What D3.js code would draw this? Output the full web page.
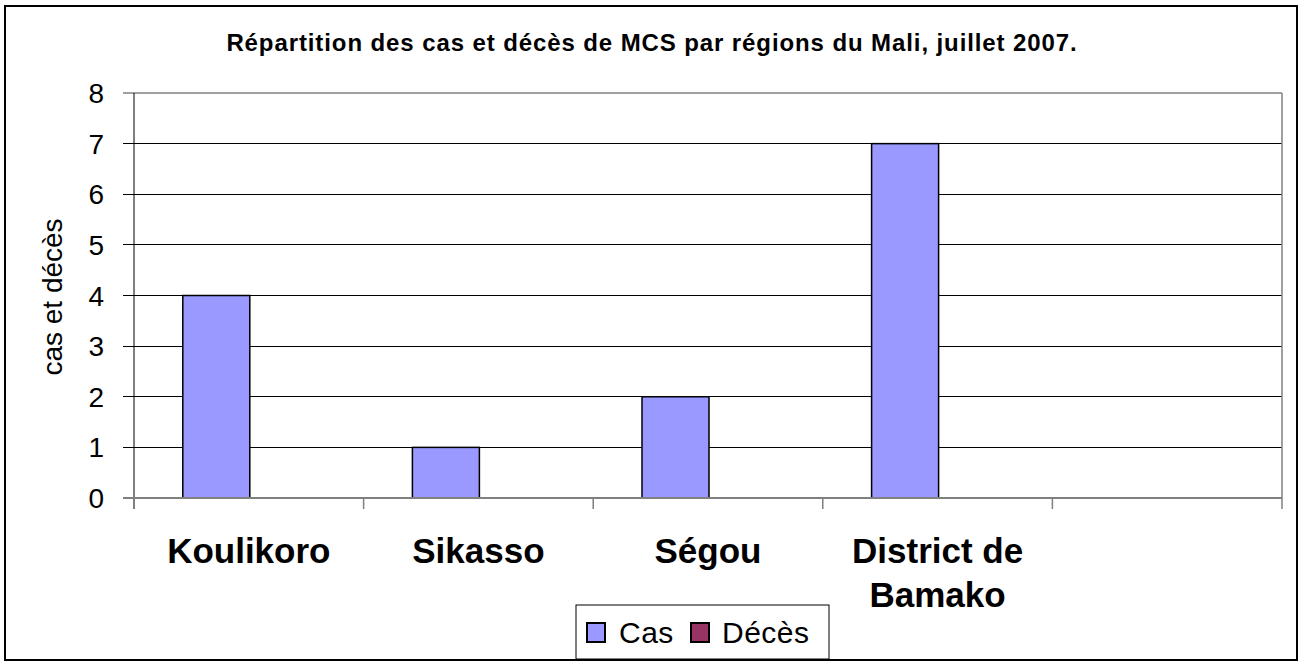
<!DOCTYPE html>
<html><head><meta charset="utf-8">
<script src="https://cdn.jsdelivr.net/npm/d3@7"></script>
<style>body{margin:0;background:#fff;}svg{display:block;font-family:"Liberation Sans",Arial,sans-serif;}</style>
</head><body>
<svg id="c" width="1304" height="666"></svg>
<script>
const categories = ["Koulikoro", "Sikasso", "Ségou", "District de Bamako", ""];
const categoryLines = [["Koulikoro"], ["Sikasso"], ["Ségou"], ["District de", "Bamako"], [""]];
const seriesNames = ["Cas", "Décès"];
const casValues = [4, 1, 2, 7, 0];
const decesValues = [0, 0, 0, 0, 0];
const yTicks = [0, 1, 2, 3, 4, 5, 6, 7, 8];
const colors = ["#9999ff", "#993366"];
const title = "Répartition des cas et décès de MCS par régions du Mali, juillet 2007.";
const yTitle = "cas et décès";

const svg = d3.select("#c");
svg.append("rect").attr("x", 5).attr("y", 6).attr("width", 1292).attr("height", 654)
  .attr("fill", "#fff").attr("stroke", "#000").attr("stroke-width", 2);

const L = 134, R = 1282, T = 93, B = 498;
const x = d3.scaleBand().domain(categories.map((d, i) => i)).range([L, R]);
const y = d3.scaleLinear().domain([0, 8]).range([B, T]);
const barW = 67;

// gridlines
const g = svg.append("g");
g.selectAll("line.grid").data(yTicks.filter(t => t > 0 && t < 8)).enter().append("line")
  .attr("x1", L - 11).attr("x2", R).attr("y1", d => y(d)).attr("y2", d => y(d))
  .attr("stroke", "#000").attr("stroke-width", 1).attr("shape-rendering", "crispEdges");
g.append("line").attr("x1", L - 11).attr("x2", R).attr("y1", y(8)).attr("y2", y(8))
  .attr("stroke", "#808080").attr("stroke-width", 1.5);
g.append("line").attr("x1", R).attr("x2", R).attr("y1", y(8)).attr("y2", B)
  .attr("stroke", "#808080").attr("stroke-width", 1.5);

// bars
const data = categories.map((c, i) => ({i, vals: [casValues[i], decesValues[i]]}));
const grp = svg.append("g").selectAll("g").data(data).enter().append("g");
grp.selectAll("rect").data(d => d.vals.map((v, k) => ({i: d.i, v, k}))).enter()
  .filter(d => d.v > 0)
  .append("rect")
  .attr("x", d => x(d.i) + x.bandwidth() / 2 - barW + 1 + d.k * barW)
  .attr("y", d => y(d.v)).attr("width", barW).attr("height", d => B - y(d.v))
  .attr("fill", d => colors[d.k]).attr("stroke", "#000").attr("stroke-width", 1.5);

// axes
svg.append("line").attr("x1", L).attr("x2", L).attr("y1", y(8)).attr("y2", B + 11)
  .attr("stroke", "#000").attr("stroke-width", 1);
svg.append("line").attr("x1", L - 11).attr("x2", R).attr("y1", B).attr("y2", B)
  .attr("stroke", "#808080").attr("stroke-width", 2);
svg.selectAll("line.ct").data(categories.map((c, i) => i).slice(1)).enter().append("line")
  .attr("x1", d => x(d)).attr("x2", d => x(d)).attr("y1", B).attr("y2", B + 11)
  .attr("stroke", "#808080").attr("stroke-width", 1.5);
svg.append("line").attr("x1", R).attr("x2", R).attr("y1", B).attr("y2", B + 11)
  .attr("stroke", "#808080").attr("stroke-width", 1.5);

// y tick labels
svg.selectAll("text.yt").data(yTicks).enter().append("text")
  .attr("x", 104).attr("y", d => y(d) + 10).attr("text-anchor", "end")
  .attr("font-size", 28).text(d => d);

// category labels
const cl = svg.selectAll("text.cl").data(categoryLines).enter().append("text")
  .attr("x", (d, i) => x(i) + x.bandwidth() / 2).attr("y", 563)
  .attr("text-anchor", "middle").attr("font-size", 35).attr("font-weight", "bold");
cl.selectAll("tspan").data(d => d).enter().append("tspan")
  .attr("x", function() { return this.parentNode.getAttribute("x"); })
  .attr("dy", (d, j) => j === 0 ? 0 : 44).text(d => d);

// title
svg.append("text").attr("x", 652).attr("y", 51).attr("text-anchor", "middle")
  .attr("font-size", 24).attr("letter-spacing", 0.9).attr("font-weight", "bold").text(title);

// y title
svg.append("text").attr("transform", "translate(62,297) rotate(-90)")
  .attr("text-anchor", "middle").attr("font-size", 28).text(yTitle);

// legend
svg.append("rect").attr("x", 576).attr("y", 605).attr("width", 253).attr("height", 54)
  .attr("fill", "#fff").attr("stroke", "#000").attr("stroke-width", 1);
const lx = [587, 691], tx = [619, 722];
seriesNames.forEach((s, k) => {
  svg.append("rect").attr("x", lx[k]).attr("y", 623).attr("width", 18).attr("height", 19)
    .attr("fill", colors[k]).attr("stroke", "#000").attr("stroke-width", 2);
  svg.append("text").attr("x", tx[k]).attr("y", 643).attr("font-size", 30)
    .attr("letter-spacing", 0.5).text(s);
});
</script>
</body></html>
